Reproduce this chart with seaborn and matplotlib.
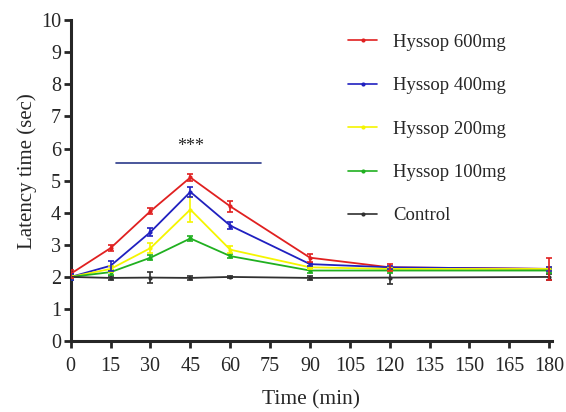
import matplotlib
matplotlib.use("Agg")
import matplotlib.pyplot as plt
import pandas as pd
import numpy as np
import seaborn as sns

# time points (min)
time = [0, 15, 30, 45, 60, 90, 120, 180]

groups = ["Hyssop 600mg", "Hyssop 400mg", "Hyssop 200mg", "Hyssop 100mg", "Control"]
colors = ["#e02020", "#2020c0", "#f5f500", "#20b020", "#303030"]

# mean latency (sec)
h600 = [2.10, 2.90, 4.05, 5.10, 4.20, 2.60, 2.30, 2.25]
h400 = [2.00, 2.35, 3.40, 4.65, 3.60, 2.40, 2.30, 2.25]
h200 = [2.00, 2.25, 2.90, 4.10, 2.85, 2.30, 2.25, 2.25]
h100 = [2.00, 2.15, 2.60, 3.20, 2.65, 2.20, 2.20, 2.20]
ctrl = [2.00, 1.97, 1.98, 1.97, 2.00, 1.97, 1.98, 2.00]

# SEM
e600 = [0.12, 0.10, 0.10, 0.10, 0.17, 0.12, 0.10, 0.35]
e400 = [0.10, 0.15, 0.12, 0.15, 0.10, 0.05, 0.05, 0.05]
e200 = [0.05, 0.10, 0.15, 0.40, 0.10, 0.05, 0.05, 0.05]
e100 = [0.08, 0.08, 0.07, 0.07, 0.07, 0.07, 0.07, 0.07]
ectrl = [0.05, 0.07, 0.18, 0.05, 0.04, 0.07, 0.20, 0.10]

means = [h600, h400, h200, h100, ctrl]
errs = [e600, e400, e200, e100, ectrl]

rows = []
for g, m in zip(groups, means):
    for t, v in zip(time, m):
        rows.append({"time": t, "latency": v, "group": g})
df = pd.DataFrame(rows)

sns.set_style("ticks")
plt.rcParams["font.family"] = ["Liberation Serif", "DejaVu Serif"]

fig = plt.figure(figsize=(5.66, 4.12), dpi=100)
ax = fig.add_axes([0.125, 0.172, 0.85, 0.779])

# control first so the treatments sit on top
for i in range(len(groups))[::-1]:
    ax.errorbar(time, means[i], yerr=errs[i], fmt="none", ecolor=colors[i],
                elinewidth=1.2, capsize=2.5, capthick=1.2, zorder=2 + (4 - i))

sns.lineplot(data=df, x="time", y="latency", hue="group", hue_order=groups,
             palette=colors, marker="o", markersize=3, markeredgewidth=0,
             linewidth=1.3, ax=ax, zorder=3)

# significance bar
ax.plot([17, 71.5], [5.55, 5.55], color="#2b3a8a", lw=1.2)
ax.text(45, 5.8, "***", ha="center", va="bottom", fontsize=13)

ax.set_xlim(0, 181)
ax.set_ylim(0, 10)
ax.set_xticks(range(0, 181, 15))
ax.set_yticks(range(0, 11))
ax.set_xlabel("Time (min)", fontsize=15.5, labelpad=10)
ax.set_ylabel("Latency time (sec)", fontsize=15)
ax.yaxis.set_label_coords(-0.07, 0.53)
ax.tick_params(axis="both", labelsize=14.5, width=2, length=5, direction="out")
ax.tick_params(axis="x", pad=6.5)
ax.tick_params(axis="y", pad=2)
for s in ["left", "bottom"]:
    ax.spines[s].set_linewidth(2.2)
sns.despine(ax=ax)

leg = ax.legend(loc="upper right", bbox_to_anchor=(0.94, 1.01), frameon=False,
                fontsize=13.5, labelspacing=1.4, handlelength=1.55, handletextpad=0.85)
for h in leg.legend_handles:
    h.set_linewidth(1.2)

fig.savefig("out.png", dpi=100)
